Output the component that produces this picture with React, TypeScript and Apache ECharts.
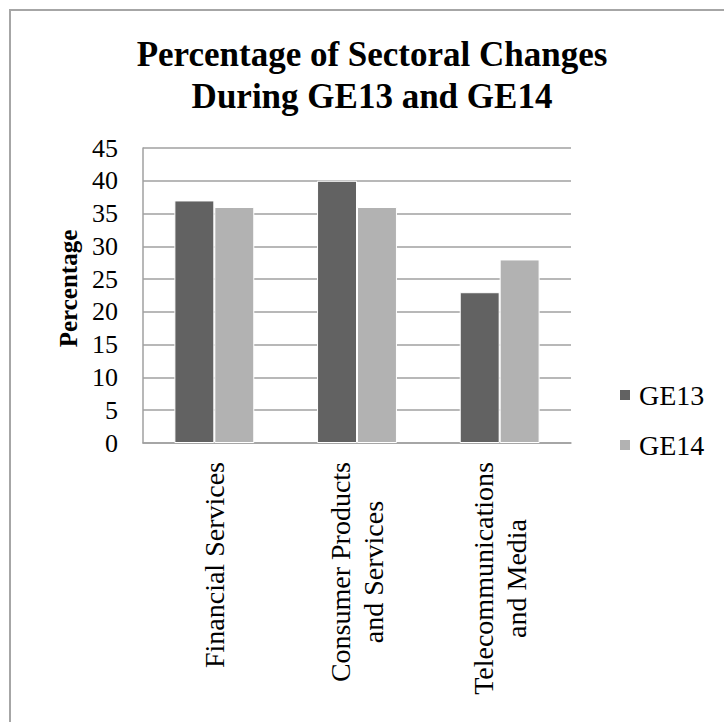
import React, { useEffect, useRef } from "react";
import * as echarts from "echarts";

const categories = [
  "Financial Services",
  "Consumer Products\nand Services",
  "Telecommunications\nand Media",
];
const seriesNames = ["GE13", "GE14"];
const ge13Values = [37, 40, 23];
const ge14Values = [36, 36, 28];
const yMin = 0;
const yMax = 45;
const yInterval = 5;

const FONT = "Liberation Serif";

export default function App() {
  const ref = useRef<HTMLDivElement>(null);

  useEffect(() => {
    if (!ref.current) return;
    const chart = echarts.init(ref.current, undefined, { renderer: "svg" });
    chart.setOption({
      animation: false,
      backgroundColor: "#ffffff",
      textStyle: { fontFamily: FONT },
      title: {
        text: "Percentage of Sectoral Changes\nDuring GE13 and GE14",
        left: 372,
        top: 33,
        padding: 0,
        textAlign: "center",
        textStyle: {
          fontFamily: FONT,
          fontSize: 35,
          fontWeight: "bold",
          color: "#000",
          lineHeight: 42,
        },
      },
      graphic: [
        {
          type: "rect",
          shape: { x: 10, y: 10, width: 800, height: 800 },
          style: { fill: "none", stroke: "#A6A6A6", lineWidth: 2 },
          silent: true,
        },
      ],
      legend: {
        orient: "vertical",
        left: 618,
        top: 381,
        padding: 0,
        itemWidth: 12,
        itemHeight: 12,
        itemGap: 22,
        icon: "rect",
        data: seriesNames,
        textStyle: {
          fontFamily: FONT,
          fontSize: 28,
          color: "#000",
          padding: [0, 0, 0, 3],
        },
      },
      grid: { left: 143, right: 153, top: 148, bottom: 279, containLabel: false },
      xAxis: {
        type: "category",
        data: categories,
        axisLine: { show: true, lineStyle: { color: "#A0A0A0", width: 1.5 } },
        axisTick: { show: false },
        axisLabel: {
          rotate: 90,
          margin: 19,
          interval: 0,
          fontFamily: FONT,
          fontSize: 28,
          formatter: (v: string) =>
            v
              .split("\n")
              .map((s) => `{a|${s}}`)
              .join("\n"),
          rich: {
            a: {
              align: "center",
              fontFamily: FONT,
              fontSize: 28,
              color: "#000",
              lineHeight: 33,
            },
          },
        },
      },
      yAxis: {
        type: "value",
        min: yMin,
        max: yMax,
        interval: yInterval,
        name: "Percentage",
        nameLocation: "middle",
        nameRotate: 90,
        nameGap: 60,
        nameTextStyle: {
          fontFamily: FONT,
          fontSize: 25,
          fontWeight: "bold",
          color: "#000",
          padding: [0, 0, 0, 14],
        },
        axisLine: { show: true, lineStyle: { color: "#A0A0A0", width: 1.5 } },
        axisTick: { show: false },
        axisLabel: {
          margin: 25,
          fontFamily: FONT,
          fontSize: 26,
          color: "#000",
        },
        splitLine: { show: true, lineStyle: { color: "#A0A0A0", width: 1.5 } },
      },
      series: [
        {
          name: seriesNames[0],
          type: "bar",
          data: ge13Values,
          barGap: "0%",
          barCategoryGap: "44%",
          itemStyle: { color: "#626262", borderColor: "#ffffff", borderWidth: 1 },
        },
        {
          name: seriesNames[1],
          type: "bar",
          data: ge14Values,
          barGap: "0%",
          barCategoryGap: "44%",
          itemStyle: { color: "#B2B2B2", borderColor: "#ffffff", borderWidth: 1 },
        },
      ],
    });
    return () => chart.dispose();
  }, []);

  return (
    <div
      ref={ref}
      style={{ position: "fixed", left: 0, top: 0, width: 724, height: 722 }}
    />
  );
}
